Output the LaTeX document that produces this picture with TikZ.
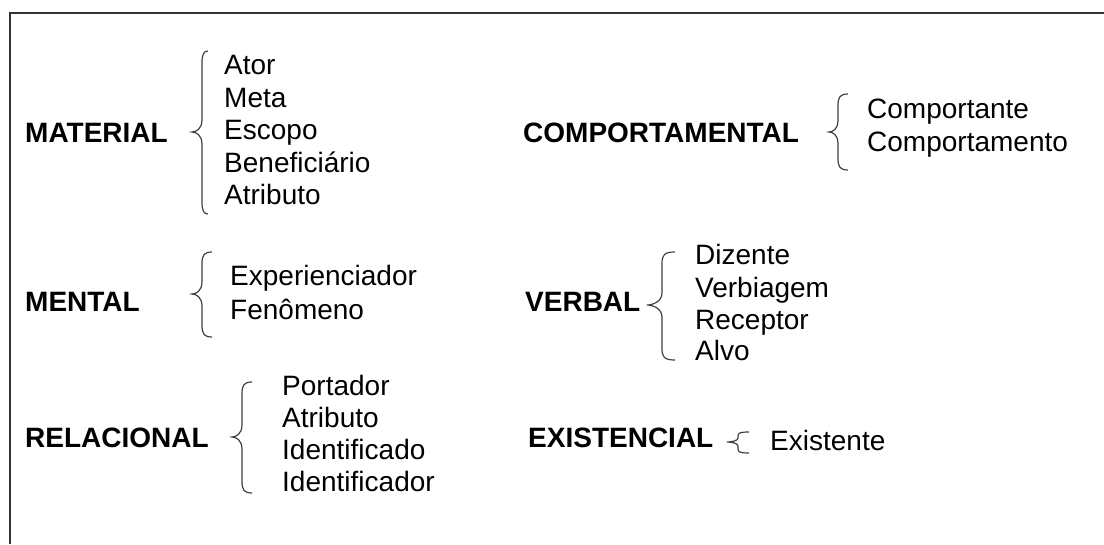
\documentclass[tikz,border=0pt]{standalone}
\usepackage{fontspec}
\setmainfont{Liberation Sans}
\begin{document}
\begin{tikzpicture}[x=1pt,y=-1pt]
            \tikzstyle{every node}=[inner sep=0pt,anchor=base west,font=\fontsize{28}{32}\selectfont]
            \tikzstyle{tipo}=[font=\fontsize{28}{32}\selectfont\bfseries]
            \tikzstyle{chave}=[draw=black!75,line width=1.2pt]
            \useasboundingbox (0,0) rectangle (1104,544);
            \draw[line width=1.5pt,black!80] (10,544) -- (10,13) -- (1104,13);
            % material
            \draw (25,142) node [tipo] (mat) {MATERIAL};
            \draw[chave] (208,51) .. controls (204,51) and (202,54) .. (202,63) -- (202,120) .. controls (202,129) and (196,132) .. (192,132) .. controls (196,132) and (202,135) .. (202,144) -- (202,202) .. controls (202,211) and (204,214) .. (208,214);
            \draw (224,74) node (mat1) {Ator};
            \draw (224,107) node (mat2) {Meta};
            \draw (224,139) node (mat3) {Escopo};
            \draw (224,172) node (mat4) {Beneficiário};
            \draw (224,204) node (mat5) {Atributo};
            % mental
            \draw (25,311) node [tipo] (men) {MENTAL};
            \draw[chave] (212,252) .. controls (204,252) and (202,255) .. (202,264) -- (202,282) .. controls (202,291) and (196,294) .. (192,294) .. controls (196,294) and (202,297) .. (202,306) -- (202,325) .. controls (202,334) and (204,337) .. (212,337);
            \draw (230,285) node (men1) {Experienciador};
            \draw (230,319) node (men2) {Fenômeno};
            % relacional
            \draw (25,447) node [tipo] (rel) {RELACIONAL};
            \draw[chave] (252,382) .. controls (244,382) and (242,385) .. (242,394) -- (242,425) .. controls (242,434) and (236,437) .. (232,437) .. controls (236,437) and (242,440) .. (242,449) -- (242,481) .. controls (242,490) and (244,493) .. (252,493);
            \draw (282,395) node (rel1) {Portador};
            \draw (282,427) node (rel2) {Atributo};
            \draw (282,459) node (rel3) {Identificado};
            \draw (282,491) node (rel4) {Identificador};
            % comportamental
            \draw (523,142) node [tipo] (com) {COMPORTAMENTAL};
            \draw[chave] (848,94) .. controls (840,94) and (838,97) .. (838,106) -- (838,120) .. controls (838,129) and (833,132) .. (829,132) .. controls (833,132) and (838,135) .. (838,144) -- (838,158) .. controls (838,167) and (840,170) .. (848,170);
            \draw (867,118) node (com1) {Comportante};
            \draw (867,151) node (com2) {Comportamento};
            % verbal
            \draw (525,311) node [tipo] (ver) {VERBAL};
            \draw[chave] (675,252) .. controls (664,252) and (662,255) .. (662,264) -- (662,293) .. controls (662,302) and (652,305) .. (647,305) .. controls (652,305) and (662,308) .. (662,317) -- (662,348) .. controls (662,357) and (664,360) .. (675,360);
            \draw (695,264) node (ver1) {Dizente};
            \draw (695,297) node (ver2) {Verbiagem};
            \draw (695,329) node (ver3) {Receptor};
            \draw (695,360) node (ver4) {Alvo};
            % existencial
            \draw (528,447) node [tipo] (exi) {EXISTENCIAL};
            \draw[chave] (749,432) .. controls (740,432) and (738,433) .. (738,436) -- (738,438) .. controls (738,441) and (731,442) .. (727,442) .. controls (731,442) and (738,443) .. (738,446) -- (738,449) .. controls (738,452) and (740,453) .. (749,453);
            \draw (770,450) node (exi1) {Existente};
        \end{tikzpicture}
\end{document}
